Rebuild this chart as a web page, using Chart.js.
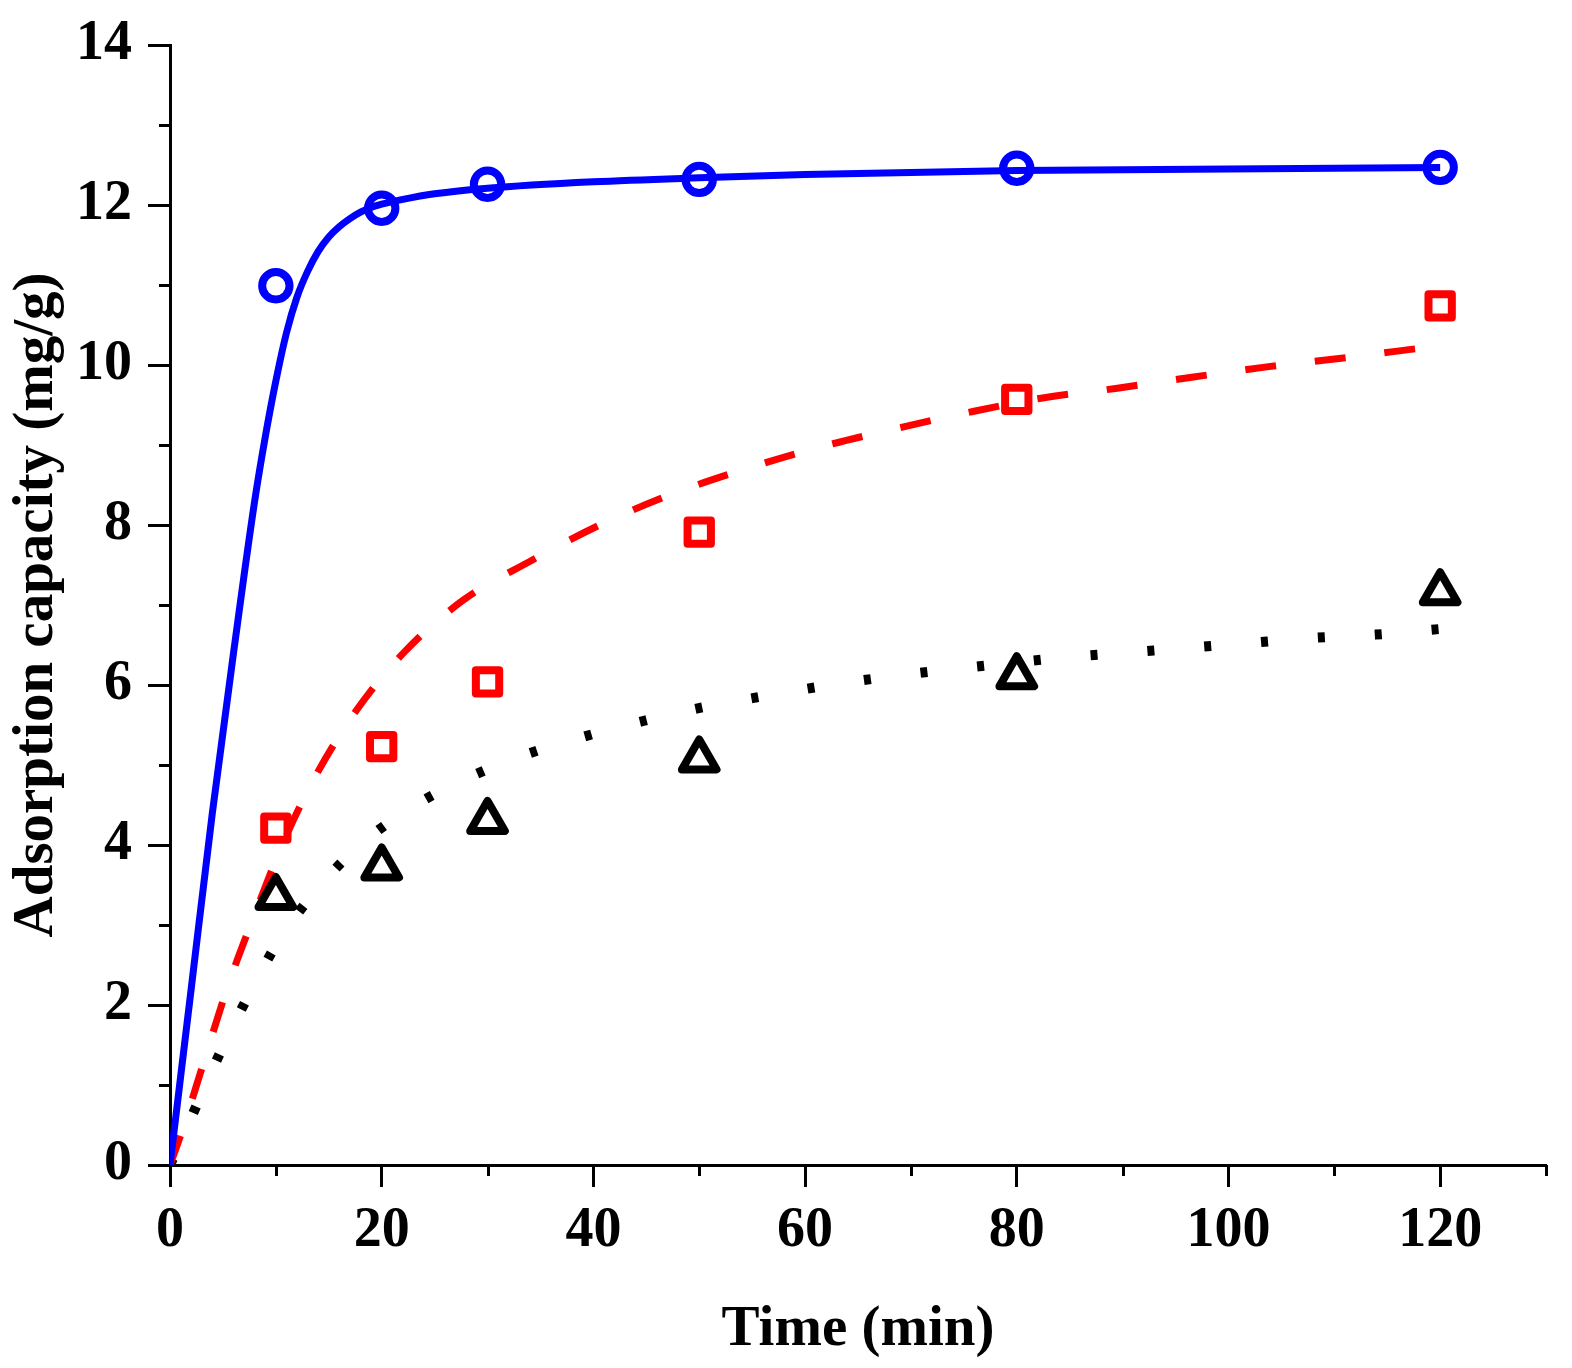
<!DOCTYPE html>
<html>
<head>
<meta charset="utf-8">
<script src="https://cdn.jsdelivr.net/npm/chart.js@4/dist/chart.umd.min.js"></script>
<style>
  html, body { margin: 0; padding: 0; background: #fff; }
  #wrap { width: 1572px; height: 1368px; }
</style>
</head>
<body>
<div id="wrap"><canvas id="c" width="1572" height="1368"></canvas></div>
<script>
// ---------- data ----------
const timeObs = [10, 20, 30, 50, 80, 120];
const qObsBlue = [10.99, 11.96, 12.26, 12.32, 12.46, 12.47];
const qObsRed = [4.21, 5.23, 6.04, 7.91, 9.57, 10.74];
const qObsBlack = [3.35, 3.72, 4.30, 5.07, 6.11, 7.16];

const fitTimeBlue = [0, 2, 4, 6, 8, 9, 10, 11, 12, 13, 14, 15, 16, 17, 18, 19, 20, 22, 25, 30, 40, 50, 60, 80, 100, 120];
const fitQBlue = [0, 2.2, 4.4, 6.4, 8.3, 9.1, 9.8, 10.4, 10.85, 11.17, 11.42, 11.6, 11.73, 11.83, 11.91, 11.97, 12.01, 12.07, 12.14, 12.21, 12.29, 12.34, 12.38, 12.43, 12.45, 12.47];

const fitTimeRed = [0, 1, 3.2, 5.4, 7.9, 10.6, 13.7, 17.7, 22.2, 27.7, 34.2, 40.6, 47.2, 54.1, 61, 68.1, 75.2, 82.3, 89.5, 96.7, 103.8, 111.1, 118.2, 120];
const fitQRed = [0, 0.37, 1.29, 2.21, 3.1, 4.0, 4.85, 5.7, 6.42, 7.06, 7.56, 8.0, 8.375, 8.69, 8.96, 9.19, 9.4, 9.585, 9.71, 9.85, 9.98, 10.09, 10.21, 10.23];

const fitTimeBlack = [0, 2.5, 4.9, 7.5, 10.3, 13.6, 17.7, 22.7, 28, 33.5, 39, 44.7, 50.3, 56.1, 61.9, 67.7, 73.4, 79.1, 84.9, 90.8, 96.6, 102.4, 108.1, 113.9, 120];
const fitQBlack = [0, 0.74, 1.45, 2.14, 2.81, 3.40, 3.97, 4.46, 4.83, 5.125, 5.35, 5.55, 5.72, 5.86, 5.99, 6.1, 6.19, 6.27, 6.35, 6.41, 6.47, 6.53, 6.59, 6.63, 6.7];

const xMajorTicks = [0, 20, 40, 60, 80, 100, 120];
const xMinorTicks = [10, 30, 50, 70, 90, 110, 130];
const yMajorTicks = [0, 2, 4, 6, 8, 10, 12, 14];
const yMinorTicks = [1, 3, 5, 7, 9, 11, 13];

const xTitle = 'Time (min)';
const yTitle = 'Adsorption capacity (mg/g)';

// ---------- helpers ----------
const pts = (xs, ys) => xs.map((x, i) => ({ x: x, y: ys[i] }));
const FONT = "'Liberation Serif', 'Times New Roman', Times, serif";

const minorTickPlugin = {
  id: 'minorTicks',
  beforeDatasetsDraw(chart) { chart.ctx.lineJoin = 'round'; },
  afterDraw(chart) {
    const { ctx, chartArea } = chart;
    const xs = chart.scales.x, ys = chart.scales.y;
    ctx.save();
    ctx.strokeStyle = '#000';
    ctx.lineWidth = 3;
    ctx.lineCap = 'butt';
    xMinorTicks.forEach(v => {
      const px = Math.round(xs.getPixelForValue(v)) + 0.5;
      ctx.beginPath();
      ctx.moveTo(px, chartArea.bottom);
      ctx.lineTo(px, chartArea.bottom + 11);
      ctx.stroke();
    });
    yMinorTicks.forEach(v => {
      const py = Math.round(ys.getPixelForValue(v)) + 0.5;
      ctx.beginPath();
      ctx.moveTo(chartArea.left, py);
      ctx.lineTo(chartArea.left - 11, py);
      ctx.stroke();
    });
    ctx.restore();
  }
};

const lineDs = (xs, ys, color, width, dash, order) => ({
  data: pts(xs, ys),
  showLine: true,
  borderColor: color,
  borderWidth: width,
  borderDash: dash,
  borderCapStyle: 'butt',
  cubicInterpolationMode: 'monotone',
  pointRadius: 0,
  pointHoverRadius: 0,
  fill: false,
  order: order
});

const markDs = (ys, color, style, radius, bw) => ({
  data: pts(timeObs, ys),
  showLine: false,
  pointStyle: style,
  pointRadius: radius,
  pointHoverRadius: radius,
  pointBorderWidth: bw,
  pointBorderColor: color,
  pointBackgroundColor: 'rgba(0,0,0,0)',
  borderColor: color,
  backgroundColor: 'rgba(0,0,0,0)',
  order: 0
});

new Chart(document.getElementById('c'), {
  type: 'scatter',
  data: {
    datasets: [
      markDs(qObsBlue, '#0000ff', 'circle', 13.7, 8),
      markDs(qObsRed, '#ff0000', 'rect', 16.5, 8),
      markDs(qObsBlack, '#000000', 'triangle', 20, 8),
      lineDs(fitTimeBlue, fitQBlue, '#0000ff', 7, [], 1),
      lineDs(fitTimeRed, fitQRed, '#ff0000', 7, [31, 39], 2),
      lineDs(fitTimeBlack, fitQBlack, '#000000', 10, [7, 50], 3)
    ]
  },
  options: {
    responsive: false,
    animation: false,
    devicePixelRatio: 1,
    layout: { autoPadding: false, padding: { left: 0, top: 45, right: 26, bottom: 0 } },
    plugins: { legend: { display: false }, tooltip: { enabled: false } },
    scales: {
      x: {
        type: 'linear',
        min: 0, max: 130,
        afterFit: s => { s.height = 203; s.paddingLeft = 0; s.paddingRight = 0; },
        afterBuildTicks: s => { s.ticks = xMajorTicks.map(v => ({ value: v })); },
        border: { display: true, color: '#000', width: 3 },
        grid: { display: true, drawOnChartArea: false, drawTicks: true, tickLength: 22, tickWidth: 3, tickColor: '#000' },
        ticks: { color: '#000', padding: 11, maxRotation: 0, autoSkip: false, font: { family: FONT, size: 56, weight: 'bold' } },
        title: { display: true, text: xTitle, color: '#000', padding: { top: 0, bottom: 4 }, font: { family: FONT, size: 57, weight: 'bold' } }
      },
      y: {
        type: 'linear',
        min: 0, max: 14,
        afterFit: s => { s.width = 170; s.paddingTop = 0; s.paddingBottom = 0; },
        afterBuildTicks: s => { s.ticks = yMajorTicks.map(v => ({ value: v })); },
        border: { display: true, color: '#000', width: 3 },
        grid: { display: true, drawOnChartArea: false, drawTicks: true, tickLength: 22, tickWidth: 3, tickColor: '#000' },
        ticks: { color: '#000', padding: 16, autoSkip: false, font: { family: FONT, size: 56, weight: 'bold' } },
        title: { display: true, text: yTitle, color: '#000', padding: { top: 3, bottom: 0 }, font: { family: FONT, size: 57, weight: 'bold' } }
      }
    }
  },
  plugins: [minorTickPlugin]
});
</script>
</body>
</html>
